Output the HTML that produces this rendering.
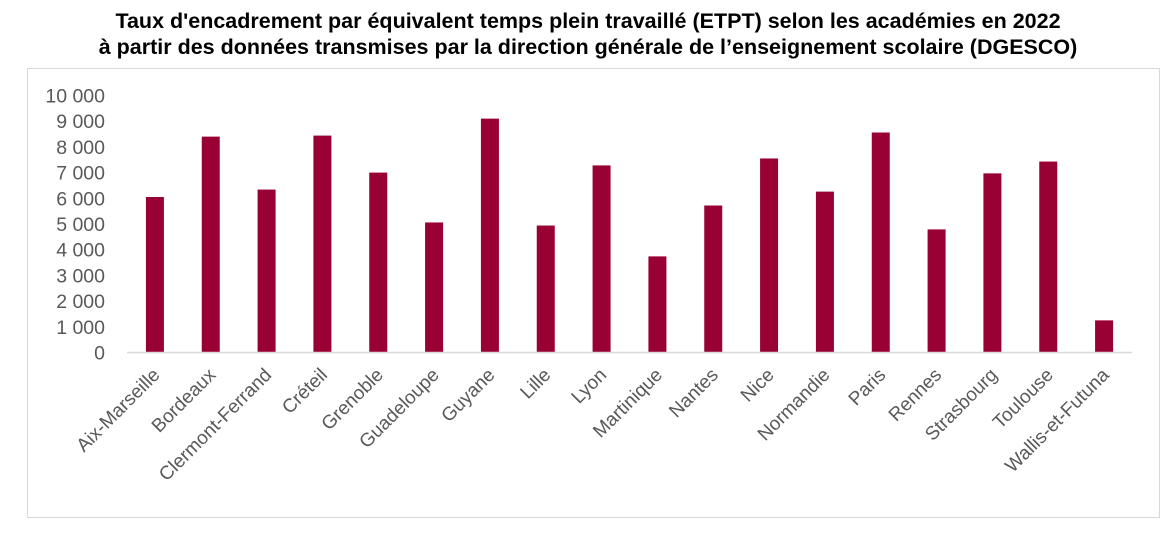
<!DOCTYPE html>
<html><head><meta charset="utf-8"><style>
body{margin:0;width:1176px;height:539px;background:#fff;font-family:"Liberation Sans",sans-serif;overflow:hidden}
#title{position:absolute;left:0;top:8px;width:1176px;text-align:center;font-weight:bold;font-size:21.5px;line-height:26px;color:#000}
#frame{position:absolute;left:27px;top:68px;width:1133px;height:450px;border:1px solid #d9d9d9;box-sizing:border-box}
svg{position:absolute;left:0;top:0}
</style></head><body>
<div id="title">Taux d'encadrement par équivalent temps plein travaillé (ETPT) selon les académies en 2022<br>à partir des données transmises par la direction générale de l’enseignement scolaire (DGESCO)</div>
<div id="frame"></div>
<svg id="chart" width="1176" height="539"></svg>
<script>
const categories=["Aix-Marseille","Bordeaux","Clermont-Ferrand","Créteil","Grenoble","Guadeloupe","Guyane","Lille","Lyon","Martinique","Nantes","Nice","Normandie","Paris","Rennes","Strasbourg","Toulouse","Wallis-et-Futuna"];
const values=[6050,8400,6340,8440,7000,5060,9100,4940,7280,3740,5720,7550,6260,8560,4790,6970,7430,1250];
const ticks=[0,1000,2000,3000,4000,5000,6000,7000,8000,9000,10000];
const tickLabels=["0","1 000","2 000","3 000","4 000","5 000","6 000","7 000","8 000","9 000","10 000"];
const svg=document.getElementById('chart');const NS="http://www.w3.org/2000/svg";
const x0=127,x1=1132,y0=352.5,yTop=95.5,maxV=10000;
const y=v=>y0-(v/maxV)*(y0-yTop);
const band=(x1-x0)/categories.length;
const xc=i=>x0+band*(i+0.5);
function mk(t,a){const e=document.createElementNS(NS,t);for(const k in a)e.setAttribute(k,a[k]);svg.appendChild(e);return e;}
ticks.forEach((t,i)=>{const e=mk('text',{x:105,y:y(t)+7,'text-anchor':'end','font-size':19.5,fill:'#595959','font-family':'Liberation Sans, sans-serif'});e.textContent=tickLabels[i];

});
values.forEach((v,i)=>{const r=mk('rect',{x:xc(i)-9,y:y(v),width:18,height:y0-y(v),fill:'#990033'});

});
const ax=mk('line',{x1:x0,x2:x1,y1:y0,y2:y0,stroke:'#d9d9d9','stroke-width':1.5});


categories.forEach((c,i)=>{const px=xc(i)+6,py=376;const e=mk('text',{x:px,y:py,'text-anchor':'end','font-size':19,fill:'#595959','font-family':'Liberation Sans, sans-serif',transform:`rotate(-45 ${px} ${py})`});e.textContent=c;

});
</script>
</body></html>
